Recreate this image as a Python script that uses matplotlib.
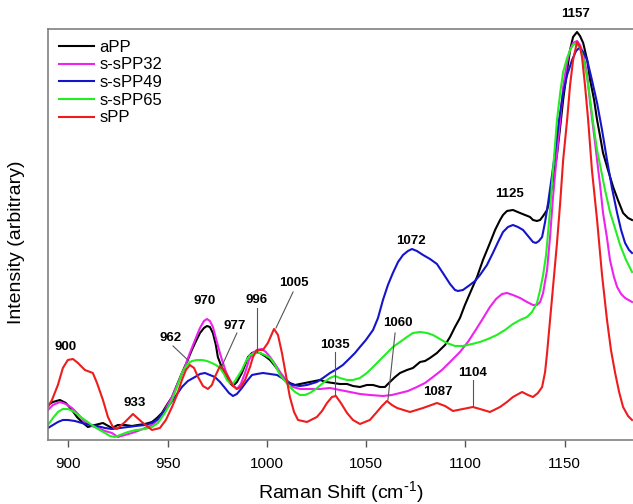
import matplotlib
matplotlib.use('Agg')
import matplotlib.pyplot as plt

plt.rcParams['font.family'] = ['Liberation Sans', 'DejaVu Sans']
plt.rcParams['mathtext.default'] = 'regular'

# Data
app_shift = [889.7, 892.2, 895.7, 898.7, 901.8, 904.3, 906.8, 909.8, 913.4, 917.4, 921.9, 924.9, 928.5, 932.0, 935.0,
             938.6, 942.1, 944.6, 947.1, 949.6, 952.2, 954.7, 957.2, 959.7, 962.2, 964.3, 966.3, 968.3, 969.8, 971.3,
             972.8, 974.3, 975.3, 977.4, 979.9, 981.4, 982.9, 984.9, 987.4, 989.0, 990.5, 992.5, 994.0, 996.5, 999.0,
             1001.6, 1004.1, 1006.6, 1009.1, 1011.6, 1014.2, 1016.7, 1019.2, 1021.7, 1024.2, 1026.8, 1029.8, 1033.3,
             1036.8, 1040.4, 1043.4, 1046.9, 1050.4, 1053.5, 1057.0, 1059.5, 1062.0, 1064.6, 1067.1, 1070.6, 1073.6,
             1077.2, 1079.7, 1082.2, 1085.7, 1087.2, 1089.8, 1092.3, 1094.8, 1097.3, 1099.8, 1102.4, 1105.9, 1108.9,
             1112.4, 1115.0, 1117.5, 1119.0, 1121.0, 1124.0, 1127.6, 1130.1, 1132.6, 1134.1, 1136.1, 1137.7, 1139.2,
             1141.2, 1142.7, 1144.2, 1146.2, 1147.8, 1149.3, 1151.3, 1152.8, 1154.3, 1156.3, 1157.8, 1159.4, 1161.4,
             1162.9, 1164.9, 1166.4, 1167.9, 1169.4, 1171.9, 1174.5, 1176.9, 1179.5, 1182.0, 1184.0]
app = [35, 38, 40, 37, 30, 23, 18, 13, 15, 17, 12, 15, 15, 14, 15, 16, 18, 22, 27, 35, 43, 55, 67, 78, 90, 99, 107,
       112, 114, 113, 107, 95, 83, 72, 63, 57, 54, 58, 67, 75, 83, 87, 88, 87, 84, 80, 74, 67, 61, 57, 55, 56, 57, 58,
       59, 60, 58, 57, 56, 56, 54, 53, 55, 55, 53, 53, 58, 63, 67, 70, 72, 78, 79, 82, 87, 90, 95, 103, 113, 122, 135,
       147, 163, 180, 197, 210, 220, 225, 229, 230, 227, 225, 223, 220, 219, 220, 224, 230, 242, 260, 285, 313, 340,
       370, 390, 403, 408, 404, 397, 380, 360, 340, 320, 304, 287, 270, 253, 240, 227, 222, 220]

s32_shift = [889.7, 892.2, 895.7, 898.7, 901.8, 904.8, 908.3, 911.8, 914.9, 918.4, 921.9, 924.9, 928.5, 932.0, 935.0,
             938.6, 942.1, 945.1, 948.6, 952.2, 955.2, 958.7, 961.2, 963.8, 966.3, 968.3, 969.8, 971.3, 972.8, 974.3,
             975.9, 977.4, 979.4, 981.4, 983.4, 984.9, 986.9, 989.0, 991.0, 993.0, 995.0, 997.5, 999.5, 1001.6, 1004.1,
             1006.6, 1009.6, 1013.1, 1016.7, 1021.7, 1026.8, 1031.8, 1036.8, 1041.9, 1046.9, 1051.9, 1058.5, 1063.0,
             1067.1, 1071.1, 1075.6, 1079.7, 1083.7, 1088.2, 1092.3, 1097.3, 1101.3, 1104.9, 1108.4, 1112.4, 1115.5,
             1118.5, 1121.0, 1124.0, 1127.6, 1131.1, 1134.1, 1136.1, 1137.7, 1139.2, 1141.2, 1142.7, 1144.2, 1146.2,
             1147.8, 1149.3, 1151.3, 1152.8, 1154.3, 1156.3, 1157.8, 1159.4, 1161.4, 1162.9, 1164.9, 1166.4, 1167.9,
             1169.4, 1171.4, 1172.9, 1174.9, 1176.5, 1178.5, 1180.5, 1184.0]
s32 = [30, 35, 38, 36, 32, 26, 18, 14, 12, 9, 7, 3, 5, 7, 9, 12, 15, 20, 30, 43, 57, 73, 87, 100, 112, 119, 121, 119,
       113, 102, 90, 80, 68, 60, 54, 51, 56, 67, 80, 87, 90, 91, 88, 83, 76, 68, 60, 53, 51, 51, 51, 52, 50, 48, 46,
       45, 44, 45, 47, 49, 53, 57, 63, 70, 78, 88, 98, 109, 120, 133, 141, 146, 147, 145, 142, 138, 135, 135, 138, 147,
       170, 203, 243, 287, 320, 353, 378, 390, 397, 399, 395, 387, 365, 337, 305, 280, 255, 227, 202, 180, 163, 153,
       146, 142, 138]

s49_shift = [889.7, 892.2, 894.7, 897.2, 899.7, 903.3, 906.8, 910.8, 914.4, 918.4, 921.9, 926.0, 930.0, 934.0, 938.6,
             942.1, 945.1, 947.6, 950.1, 953.7, 957.2, 960.2, 963.8, 966.3, 968.8, 971.3, 973.8, 976.4, 978.9, 980.9,
             982.9, 984.9, 987.4, 990.0, 992.5, 995.0, 998.0, 1001.6, 1005.1, 1007.6, 1010.1, 1013.1, 1016.7, 1020.2,
             1025.2, 1028.3, 1031.8, 1035.3, 1038.3, 1041.9, 1044.4, 1046.9, 1049.9, 1053.5, 1056.0, 1058.5, 1061.0,
             1063.5, 1066.1, 1068.6, 1071.1, 1073.1, 1075.6, 1078.7, 1082.2, 1085.7, 1088.7, 1092.3, 1094.8, 1096.3,
             1098.8, 1102.3, 1104.9, 1107.4, 1110.9, 1113.9, 1116.5, 1119.0, 1121.5, 1124.0, 1126.5, 1129.1, 1131.6,
             1134.1, 1135.6, 1137.1, 1138.7, 1140.2, 1141.7, 1143.7, 1145.2, 1147.2, 1149.3, 1151.3, 1153.8, 1155.8,
             1157.3, 1159.4, 1161.4, 1163.8, 1166.4, 1168.9, 1171.4, 1173.9, 1176.5, 1178.5, 1180.5, 1182.5, 1184.0]
s49 = [12, 15, 18, 20, 20, 19, 17, 15, 14, 12, 11, 12, 13, 14, 15, 17, 21, 27, 33, 43, 53, 59, 63, 66, 67, 65, 63, 58,
       52, 47, 44, 46, 52, 59, 65, 66, 67, 66, 65, 62, 58, 55, 54, 55, 58, 62, 67, 71, 75, 82, 87, 93, 100, 110, 122,
       140, 155, 167, 178, 185, 189, 191, 189, 185, 181, 176, 167, 156, 150, 149, 150, 155, 159, 165, 175, 187, 198,
       208, 213, 215, 213, 210, 204, 198, 197, 199, 203, 218, 237, 265, 287, 320, 347, 365, 380, 389, 392, 388, 380,
       360, 337, 310, 280, 252, 227, 210, 197, 190, 187]

s65_shift = [889.7, 892.2, 894.7, 897.2, 899.7, 902.3, 904.8, 908.3, 911.8, 914.9, 918.4, 920.9, 923.4, 926.0, 930.0,
             934.0, 938.6, 942.1, 945.1, 948.6, 952.2, 954.7, 957.2, 959.7, 962.2, 964.8, 967.3, 969.8, 972.3, 974.3,
             976.4, 978.4, 979.9, 981.4, 982.9, 984.9, 987.4, 989.5, 991.5, 994.0, 996.5, 999.0, 1001.6, 1004.1, 1006.6,
             1009.1, 1011.6, 1014.2, 1016.7, 1019.2, 1021.7, 1024.7, 1028.3, 1031.8, 1034.3, 1036.8, 1040.4, 1043.4,
             1046.9, 1050.4, 1053.5, 1057.0, 1060.5, 1063.5, 1067.1, 1070.6, 1073.6, 1077.2, 1080.7, 1083.7, 1087.2,
             1090.7, 1094.8, 1098.8, 1103.4, 1107.4, 1111.4, 1115.9, 1120.0, 1124.0, 1127.6, 1131.1, 1133.6, 1136.1,
             1137.7, 1139.2, 1140.7, 1142.7, 1144.2, 1146.2, 1147.8, 1149.3, 1151.3, 1152.8, 1154.3, 1155.8, 1157.8,
             1159.4, 1161.4, 1162.9, 1164.9, 1166.4, 1167.9, 1170.4, 1172.9, 1175.4, 1178.0, 1181.0, 1184.0]
s65 = [15, 22, 28, 31, 31, 29, 25, 20, 15, 11, 7, 4, 3, 5, 8, 10, 11, 13, 17, 27, 40, 53, 67, 75, 79, 80, 80, 79, 77,
       75, 72, 66, 60, 57, 56, 62, 70, 79, 85, 87, 87, 85, 82, 75, 65, 59, 53, 48, 45, 45, 47, 51, 57, 62, 64, 62, 60,
       60, 62, 67, 73, 80, 87, 93, 98, 103, 107, 108, 107, 105, 101, 97, 94, 94, 96, 98, 101, 105, 110, 116, 120, 123,
       128, 137, 150, 165, 185, 230, 270, 320, 347, 368, 382, 390, 395, 397, 392, 382, 362, 340, 310, 290, 275, 250,
       228, 212, 195, 180, 168]

spp_shift = [889.7, 891.7, 894.7, 897.2, 899.7, 902.3, 904.8, 908.3, 912.3, 914.4, 917.4, 919.9, 922.4, 924.4, 928.5,
             932.5, 937.0, 942.1, 946.1, 949.1, 952.2, 954.7, 957.2, 959.2, 961.2, 963.3, 965.3, 967.8, 970.3, 972.3,
             973.8, 976.4, 978.4, 980.4, 982.9, 984.9, 986.9, 989.0, 991.5, 993.0, 995.0, 998.0, 1000.5, 1003.6, 1005.6,
             1007.6, 1009.6, 1011.6, 1013.7, 1015.7, 1020.2, 1025.2, 1027.8, 1030.3, 1032.8, 1034.8, 1037.3, 1040.4,
             1043.4, 1046.9, 1051.9, 1055.0, 1058.0, 1060.5, 1063.0, 1065.6, 1072.1, 1078.7, 1085.7, 1089.8, 1093.8,
             1098.8, 1103.8, 1107.4, 1112.4, 1117.5, 1121.0, 1124.0, 1128.6, 1131.6, 1134.1, 1136.6, 1138.7, 1140.2,
             1141.2, 1142.7, 1144.2, 1146.2, 1147.8, 1149.3, 1151.3, 1152.8, 1154.3, 1156.3, 1157.8, 1158.8, 1160.3,
             1161.9, 1163.8, 1166.4, 1168.9, 1171.4, 1173.4, 1175.5, 1177.5, 1179.5, 1182.0, 1184.0]
spp = [33, 40, 55, 72, 80, 81, 77, 70, 67, 57, 40, 23, 13, 11, 18, 26, 18, 10, 12, 20, 33, 45, 60, 70, 75, 72, 63, 54,
       51, 55, 63, 74, 70, 63, 54, 51, 53, 60, 73, 83, 90, 90, 97, 111, 105, 87, 65, 43, 28, 20, 18, 23, 29, 37, 43,
       44, 37, 27, 20, 16, 20, 27, 34, 39, 35, 32, 28, 32, 37, 34, 29, 31, 33, 31, 28, 33, 38, 43, 48, 45, 43, 47, 53,
       68, 87, 120, 153, 197, 237, 280, 320, 355, 380, 398, 393, 383, 355, 320, 270, 220, 165, 120, 90, 67, 48, 33, 24,
       20]

labels = ['aPP', 's-sPP32', 's-sPP49', 's-sPP65', 'sPP']
colors = ['#000000', '#ee22ee', '#1414cc', '#22ee22', '#ee1c1c']

# peak labels: text, text position, optional leader line (x0, y0, x1, y1)
peaks = [
    ('900', 898.7, 93, None),
    ('933', 933.5, 37, None),
    ('962', 951.7, 102, (952.7, 94, 960.7, 79)),
    ('970', 968.8, 139, None),
    ('977', 983.9, 114, (984.9, 107, 976.9, 72)),
    ('996', 995.0, 140, (995.0, 132, 995.0, 88)),
    ('1005', 1013.7, 157, (1013.2, 148, 1004.6, 112)),
    ('1035', 1034.3, 95, (1034.3, 88, 1034.3, 45)),
    ('1060', 1066.1, 117, (1064.6, 107, 1061.0, 40)),
    ('1072', 1072.6, 199, None),
    ('1087', 1086.2, 48, None),
    ('1104', 1103.9, 67, (1103.9, 60, 1103.9, 34)),
    ('1125', 1122.5, 246, None),
    ('1157', 1155.8, 426, None),
]

fig = plt.figure(figsize=(6.33, 5.04), dpi=100)
ax = fig.add_axes([0.0758, 0.127, 0.9242, 0.8155])

series = [(app_shift, app), (s32_shift, s32), (s49_shift, s49), (s65_shift, s65), (spp_shift, spp)]
for (xs, ys), lab, col in zip(series, labels, colors):
    ax.plot(xs, ys, color=col, lw=1.5, label=lab)

for txt, tx, ty, line in peaks:
    if line is not None:
        ax.plot([line[0], line[2]], [line[1], line[3]], color='#555555', lw=0.8)
    ax.text(tx, ty, txt, ha='center', va='center', fontsize=9.5, fontweight='bold')

ax.set_xlim(889.7, 1184.5)
ax.set_ylim(0, 411)
ax.set_xticks([900, 950, 1000, 1050, 1100, 1150])
ax.set_yticks([])
ax.tick_params(axis='x', direction='out', length=5, width=1, color='#555555', labelsize=11, pad=7)

for s in ['top', 'left', 'bottom']:
    ax.spines[s].set_color('#808080')
    ax.spines[s].set_linewidth(1.2)
ax.spines['right'].set_visible(False)

ax.set_xlabel(r'Raman Shift (cm$^{\text{-}1}$)', fontsize=14, labelpad=6)
ax.set_ylabel('Intensity (arbitrary)', fontsize=14)
ax.yaxis.set_label_coords(-0.04, 0.48)

ax.legend(loc='upper left', frameon=False, fontsize=12, handlelength=2.1, handletextpad=0.35,
          labelspacing=0.16, borderaxespad=0.25)

fig.savefig('out.png', dpi=100)
